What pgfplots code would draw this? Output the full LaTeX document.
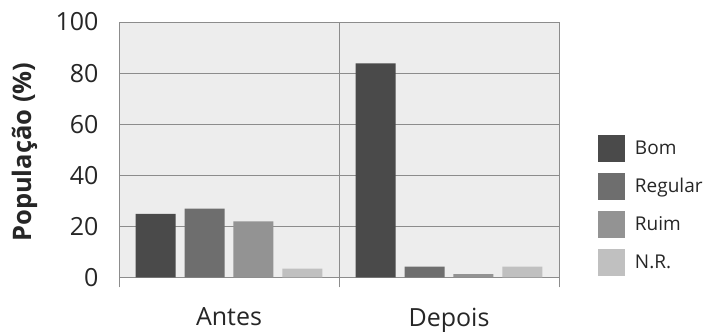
\documentclass[border=0pt]{standalone}
\usepackage{pgfplots}
\pgfplotsset{compat=1.18}
\usepackage{fontspec}
\setmainfont{Open Sans}
\definecolor{cbom}{HTML}{4A4A4A}
\definecolor{creg}{HTML}{6E6E6E}
\definecolor{crui}{HTML}{939393}
\definecolor{cnr}{HTML}{C0C0C0}
\definecolor{bg}{HTML}{EDEDED}
\definecolor{gridc}{HTML}{8C8C8C}
\begin{document}
\begin{tikzpicture}
\begin{axis}[
  at={(119pt,55.7pt)}, anchor=south west,
  scale only axis, width=440pt, height=255.3pt,
  xmin=-0.5, xmax=1.5, ymin=0, ymax=100,
  axis background/.style={fill=bg},
  axis line style={gridc, line width=1pt},
  xtick={0,1}, xticklabels={Antes,Depois},
  minor xtick={-0.5,0.5,1.5},
  xminorgrids,
  minor grid style={gridc, line width=1pt},
  ytick={0,20,...,100},
  ymajorgrids,
  major grid style={gridc, line width=1pt},
  major tick length=0pt,
  minor tick length=10pt,
  tick align=outside,
  xtick pos=left, ytick pos=left,
  tick style={gridc, line width=1pt},
  /pgf/number format/assume math mode=true,
  ticklabel style={font=\fontsize{25}{29}\selectfont, text=black!85},
  xticklabel style={yshift=-27pt},
  yticklabel style={xshift=-17pt},
  ylabel={População (\%)},
  every axis y label/.style={at={(axis description cs:-0.215,0.49)}, rotate=90, anchor=center, font=\fontsize{25.5}{29}\selectfont\bfseries, text=black!85},
  ybar, bar width=0.1818,
  legend style={at={(rel axis cs:1.0886,0.5574)}, anchor=north west, draw=none, fill=none,
    inner sep=0pt, outer sep=0pt, row sep=11pt, column sep=10pt,
    font=\fontsize{19}{22}\selectfont, text=black!85,
    nodes={inner sep=0pt}},
  legend cell align=left,
  legend image code/.code={\fill[#1] (0pt,-13.5pt) rectangle (27pt,13.5pt);},
]
\addplot[fill=cbom, draw=none, bar shift=-0.334] coordinates {(0,24.8) (1,83.8)};
\addplot[fill=creg, draw=none, bar shift=-0.111] coordinates {(0,26.9) (1,4.2)};
\addplot[fill=crui, draw=none, bar shift=0.111] coordinates {(0,21.9) (1,1.2)};
\addplot[fill=cnr, draw=none, bar shift=0.334] coordinates {(0,3.4) (1,4.2)};
\legend{Bom,Regular,Ruim,N.R.}
\end{axis}
\pgfresetboundingbox
\useasboundingbox (0,0) rectangle (709pt,333pt);
\end{tikzpicture}
\end{document}
